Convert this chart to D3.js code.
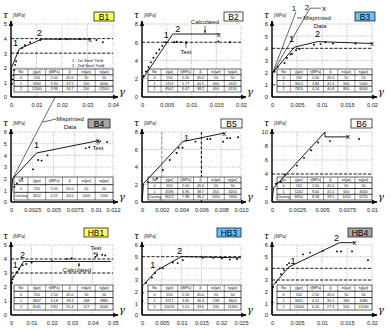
<!DOCTYPE html>
<html><head><meta charset="utf-8">
<script src="https://cdn.jsdelivr.net/npm/d3@7/dist/d3.min.js"></script>
<style>
html,body{margin:0;padding:0;background:#fff;}
svg{display:block;}
</style></head><body>
<svg id="chart" width="391" height="329"></svg>
<script>
// ================= DATA =================
const tableHeader = ["No","γ[με]","τ[MPa]","β","εx[με]","εy[με]"];

// B1
const b1XTicks = [0,0.01,0.02,0.03,0.04];
const b1XLabels = ["0","0.01","0.02","0.03","0.04"];
const b1YTicks = [0,1,2,3,4,5];
const b1Model = [[0,0],[0.00015,2.0],[0.0033,3.3],[0.012,3.96],[0.031,3.96]];
const b1Test = [[0.0004,0.9],[0.0007,1.2],[0.0009,1.5],[0.0012,1.85],[0.0016,2.2],[0.002,2.45],[0.0027,3.0],[0.0043,3.35],[0.0055,3.55],[0.0075,3.75],[0.0115,3.9],[0.019,3.95],[0.022,3.95],[0.027,3.97],[0.0335,3.9],[0.036,3.75]];
const b1Table = [["0","150","2.00","45.0","50","50"],["1","3300","3.30","37.2","100","4000"],["2","12000","3.96","34.7","200","13500"]];

// B2
const b2XTicks = [0,0.005,0.01,0.015,0.02];
const b2XLabels = ["0","0.005","0.01","0.015","0.02"];
const b2YTicks = [0,2,4,6,8];
const b2Model = [[0,0],[0.00015,2.0],[0.0051,6.0],[0.0062,6.9],[0.0155,6.9]];
const b2Test = [[0.0003,2.3],[0.0008,2.8],[0.0013,3.3],[0.0018,3.8],[0.0023,4.3],[0.0029,4.8],[0.0035,5.2],[0.0041,5.6],[0.0047,6.0],[0.0065,6.0],[0.007,6.05],[0.0078,6.0],[0.0154,6.1],[0.0178,6.0]];
const b2Table = [["0","150","2.00","45.0","50","50"],["1","5113","5.77","41.5","400","4110"],["2","8502","6.67","38.2","400","6130"]];

// B3
const b3XTicks = [0,0.005,0.01,0.015,0.02];
const b3XLabels = ["0","0.005","0.01","0.015","0.02"];
const b3YTicks = [0,1,2,3,4,5,6];
const b3Model = [[0,0],[0.00015,2.0],[0.0045,4.1],[0.0091,4.55],[0.02,4.4]];
const b3Misprint1 = [[0.00015,2.0],[0.0048,7.0]];
const b3Misprint2 = [[0.00015,2.0],[0.0076,7.3],[0.0098,7.3]];
const b3Test = [[0.0005,2.1],[0.0012,2.5],[0.0025,2.8],[0.003,3.2],[0.0037,3.5],[0.004,3.55],[0.0048,3.85],[0.0055,3.95],[0.0084,4.3],[0.0097,4.35],[0.0107,4.5],[0.0122,4.4],[0.0167,4.4]];
const b3Table = [["0","150","2.00","45.0","50","50"],["1","3615","3.86","42.3","600","5000"],["2","7820","4.54","40.8","800","8000"]];

// B4
const b4XTicks = [0,0.0025,0.005,0.0075,0.01,0.012];
const b4XLabels = ["0","0.0025","0.005","0.0075","0.01","0.012"];
const b4YTicks = [0,1,2,3,4,5,6];
const b4Model = [[0,0],[0.0002,2.0],[0.003,4.2],[0.0102,5.25]];
const b4Misprint = [[0.0002,2.0],[0.0052,9.0]];
const b4Test = [[0.0004,1.3],[0.0007,1.6],[0.0013,2.0],[0.0026,2.8],[0.0032,3.6],[0.0036,3.55],[0.0043,4.0],[0.0088,4.6],[0.0092,4.7],[0.0105,5.2],[0.0113,5.15]];
const b4Table = [["0","150","2.00","45.0","50","50"],["Cracking","3012","4.25","44.0","1000","1200"]];

// B5
const b5XTicks = [0,0.002,0.004,0.006,0.008,0.01];
const b5XLabels = ["0","0.002","0.004","0.006","0.008","0.010"];
const b5YTicks = [0,2,4,6,8];
const b5Model = [[0,0],[0.00015,2.1],[0.0041,6.9],[0.0083,7.88]];
const b5Test = [[0.0006,2.3],[0.0015,2.7],[0.0021,3.65],[0.0028,4.8],[0.0035,5.6],[0.0037,6.2],[0.0041,6.2],[0.0054,6.9],[0.0066,7.2],[0.0069,7.2],[0.0082,6.9],[0.0086,7.3],[0.0089,7.3],[0.0097,7.4]];
const b5Table = [["0","150","2.00","45.0","50","50"],["1","4596","6.90","38.7","450","4200"],["Cracking","8022","7.88","36.2","1050","7400"]];

// B6
const b6XTicks = [0,0.0025,0.005,0.0075,0.01];
const b6XLabels = ["0","0.0025","0.005","0.0075","0.01"];
const b6YTicks = [0,2,4,6,8,10];
const b6Model = [[0,0],[0.00015,2.0],[0.0053,10.0],[0.0053,9.3],[0.0076,9.3]];
const b6Test = [[0.0004,2.6],[0.0009,2.9],[0.0013,3.9],[0.0025,5.2],[0.0032,6.3],[0.0039,7.4],[0.0046,8.5],[0.0058,8.7],[0.0087,9.0]];
const b6Table = [["0","150","2.00","45.0","50","50"],["1","5242","9.00","41.5","650","4600"],["Cracking","8450","8.58","39.5","1050","6270"]];

// HB1
const hb1XTicks = [0,0.01,0.02,0.03,0.04,0.05];
const hb1XLabels = ["0","0.01","0.02","0.03","0.04","0.05"];
const hb1YTicks = [0,1,2,3,4,5];
const hb1Model = [[0,0],[0.00015,2.5],[0.0036,3.18],[0.0061,3.82],[0.049,3.82]];
const hb1Test = [[0.0005,2.3],[0.0008,2.55],[0.0012,2.75],[0.0027,3.05],[0.004,3.3],[0.0057,3.55],[0.0075,3.65],[0.0101,3.75],[0.0202,3.85],[0.0274,4.0],[0.0298,4.05],[0.041,4.4],[0.0413,4.15],[0.0447,4.3],[0.0462,4.25]];
const hb1Table = [["0","150","2.50","45.0","50","50"],["1","3607","3.18","39.3","168","3880"],["2","6141","3.82","35.4","127","6000"]];

// HB3
const hb3XTicks = [0,0.005,0.01,0.015,0.02,0.025];
const hb3XLabels = ["0","0.005","0.01","0.015","0.02","0.025"];
const hb3YTicks = [0,1,2,3,4,5,6];
const hb3Model = [[0,0],[0.00015,2.5],[0.0037,3.82],[0.01,5.01],[0.025,4.9]];
const hb3Test = [[0.0001,1.2],[0.0002,1.9],[0.001,2.75],[0.0025,3.2],[0.0033,3.6],[0.0045,4.0],[0.0053,4.0],[0.0078,4.5],[0.009,4.45],[0.0103,4.7],[0.0154,4.9],[0.018,4.9],[0.0202,4.85],[0.0222,4.75],[0.024,4.8]];
const hb3Table = [["0","150","2.50","45.0","50","50"],["1","3721","3.82","36.3","138","3600"],["2","10015","5.01","33.6","230","11300"]];

// HB4
const hb4XTicks = [0,0.005,0.01,0.015,0.02];
const hb4XLabels = ["0","0.005","0.01","0.015","0.02"];
const hb4YTicks = [0,1,2,3,4,5,6];
const hb4Model = [[0,0],[0.00015,2.5],[0.0034,4.12],[0.0135,6.2],[0.0165,6.2]];
const hb4Test = [[0.0001,1.1],[0.0002,2.4],[0.0008,2.8],[0.0018,3.5],[0.0024,3.85],[0.003,4.3],[0.0034,4.45],[0.0062,5.2],[0.0076,5.35],[0.0102,5.5],[0.013,5.45],[0.0138,5.45],[0.016,5.45],[0.0192,4.7]];
const hb4Table = [["0","150","2.50","45.0","50","50"],["1","3441","4.12","30.1","180","3080"],["2","12000","6.20","27.3","500","12000"]];

// ================= LAYOUT =================
const FONT = "'Liberation Sans', Arial, sans-serif";
const rows = [
  {T:24, B:97, tau:16, boxY:12, xl:107, tY1:69, tY2:92},
  {T:132, B:202, tau:124, boxY:119, xl:213, tY1:177, tY2:200},
  {T:245, B:315, tau:237, boxY:228, xl:325, tY1:285, tY2:310}
];
const cols = [{L:11,R:113,tL:14},{L:142,R:241,tL:148},{L:272,R:372,tL:277}];

const panels = [
 {name:"B1", r:0,c:0, xd:[0,0.04], yd:[0,5], xt:b1XTicks, xl:b1XLabels, yt:b1YTicks, model:b1Model, test:b1Test, table:b1Table,
  box:"#ffff66", bw:20, bx:94, dash:{h:[3,4],v:[]}, labs:[[2,"1",-4,-3],[3,"2",-2,-3]], xEnd:true},
 {name:"B2", r:0,c:1, xd:[0,0.02], yd:[0,8], xt:b2XTicks, xl:b2XLabels, yt:b2YTicks, model:b2Model, test:b2Test, table:b2Table,
  box:"#ffffff", bw:19, bx:224, dash:{h:[6],v:[]}, labs:[[2,"1",-1,-4],[3,"2",5,-2]], xEnd:true},
 {name:"B3", r:0,c:2, xd:[0,0.02], yd:[0,6], xt:b3XTicks, xl:b3XLabels, yt:b3YTicks, model:b3Model, test:b3Test, table:b3Table,
  box:"#66c2ff", bw:20, bx:355, dash:{h:[1,4],v:[]}, labs:[[2,"1",-3,-5],[3,"2",0,-5]], xEnd:true},
 {name:"B4", r:1,c:0, xd:[0,0.012], yd:[0,6], xt:b4XTicks, xl:b4XLabels, yt:b4YTicks, model:b4Model, test:b4Test, table:b4Table,
  box:"#a6a6a6", bw:22, bx:88, dash:{h:[],v:[]}, labs:[[2,"1",0,-5]], xEnd:true},
 {name:"B5", r:1,c:1, xd:[0,0.01], yd:[0,8], xt:b5XTicks, xl:b5XLabels, yt:b5YTicks, model:b5Model, test:b5Test, table:b5Table,
  box:"#ffffff", bw:21, bx:221, dash:{h:[],v:[0.006]}, dashG:{v:[0.002]}, labs:[[2,"1",4,-1]], xEnd:true},
 {name:"B6", r:1,c:2, xd:[0,0.01], yd:[0,10], xt:b6XTicks, xl:b6XLabels, yt:b6YTicks, model:b6Model, test:b6Test, table:b6Table,
  box:"#ffffff", bw:21, bx:351, dash:{h:[4],v:[]}, labs:[], xEnd:true},
 {name:"HB1", r:2,c:0, xd:[0,0.05], yd:[0,5], xt:hb1XTicks, xl:hb1XLabels, yt:hb1YTicks, model:hb1Model, test:hb1Test, table:hb1Table,
  box:"#ffff66", bw:24, bx:84, dash:{h:[3,4],v:[]}, labs:[[2,"1",-3,-2],[3,"2",-1,-4]], xEnd:false},
 {name:"HB3", r:2,c:1, xd:[0,0.025], yd:[0,6], xt:hb3XTicks, xl:hb3XLabels, yt:hb3YTicks, model:hb3Model, test:hb3Test, table:hb3Table,
  box:"#66c2ff", bw:24, bx:217, dash:{h:[5],v:[]}, labs:[[2,"1",-4,-2],[3,"2",-2,-3]], xEnd:false},
 {name:"HB4", r:2,c:2, xd:[0,0.02], yd:[0,6], xt:hb4XTicks, xl:hb4XLabels, yt:hb4YTicks, model:hb4Model, test:hb4Test, table:hb4Table,
  box:"#a6a6a6", bw:24, bx:348, dash:{h:[3,4],v:[]}, labs:[[2,"1",4,-3],[3,"2",-3,-2]], xEnd:true}
];

const svg = d3.select("#chart");
const defs = svg.append("defs");
defs.append("marker").attr("id","ah").attr("viewBox","0 0 10 10").attr("refX",9).attr("refY",5)
  .attr("markerWidth",4).attr("markerHeight",4).attr("orient","auto-start-reverse")
  .append("path").attr("d","M0,1L10,5L0,9Z").attr("fill","#000");
defs.append("marker").attr("id","sa").attr("viewBox","0 0 10 10").attr("refX",9).attr("refY",5)
  .attr("markerWidth",5).attr("markerHeight",5).attr("orient","auto")
  .append("path").attr("d","M0,2L10,5L0,8Z").attr("fill","#000");

const scales = {};

panels.forEach(p => {
  const R = rows[p.r], C = cols[p.c];
  const g = svg.append("g");
  const x = d3.scaleLinear().domain(p.xd).range([C.L, C.R]);
  const y = d3.scaleLinear().domain(p.yd).range([R.B, R.T]);
  scales[p.name] = {x, y};
  // grid
  g.selectAll(null).data(p.xt.filter(d => d > 0)).join("line")
    .attr("x1", d => x(d)).attr("x2", d => x(d)).attr("y1", R.B).attr("y2", R.T)
    .attr("stroke", "#8a8a8a").attr("stroke-width", 0.6).attr("stroke-dasharray", "1,1.2");
  g.selectAll(null).data(p.yt.filter(d => d > 0)).join("line")
    .attr("x1", C.L).attr("x2", C.R).attr("y1", d => y(d)).attr("y2", d => y(d))
    .attr("stroke", "#8a8a8a").attr("stroke-width", 0.6).attr("stroke-dasharray", "1,1.2");
  // emphasized dashed lines
  g.selectAll(null).data(p.dash.h).join("line")
    .attr("x1", C.L).attr("x2", C.R).attr("y1", d => y(d)).attr("y2", d => y(d))
    .attr("stroke", "#111").attr("stroke-width", 0.9).attr("stroke-dasharray", "3,1.8");
  g.selectAll(null).data(p.dash.v).join("line")
    .attr("x1", d => x(d)).attr("x2", d => x(d)).attr("y1", R.B).attr("y2", R.T)
    .attr("stroke", "#111").attr("stroke-width", 1.1).attr("stroke-dasharray", "3,1.8");
  if (p.dashG) g.selectAll(null).data(p.dashG.v).join("line")
    .attr("x1", d => x(d)).attr("x2", d => x(d)).attr("y1", R.B).attr("y2", R.T)
    .attr("stroke", "#999").attr("stroke-width", 1.1).attr("stroke-dasharray", "3,1.8");

  // tick labels via d3 axes
  const ax = g.append("g").attr("transform", `translate(0,${R.B})`)
    .call(d3.axisBottom(x).tickValues(p.xt).tickFormat((d,i) => p.xl[i]).tickSize(0).tickPadding(6));
  ax.select(".domain").remove();
  ax.selectAll("text").attr("font-family", FONT).attr("font-size", 5.6).attr("fill", "#222");
  const ay = g.append("g").attr("transform", `translate(${C.L},0)`)
    .call(d3.axisLeft(y).tickValues(p.yt).tickFormat(d3.format("d")).tickSize(0).tickPadding(4));
  ay.select(".domain").remove();
  ay.selectAll("text").attr("font-family", FONT).attr("font-size", 5.8).attr("fill", "#222");

  // table
  const tx0 = C.tL, tx1 = C.R, ty0 = R.tY1, ty1 = R.tY2;
  const allRows = [tableHeader].concat(p.table);
  const rh = (ty1 - ty0) / allRows.length;
  const fr = [0.14,0.18,0.17,0.15,0.18,0.18];
  const cx = [tx0]; fr.forEach(f => cx.push(cx[cx.length-1] + f*(tx1-tx0)));
  const tg = g.append("g");
  tg.append("rect").attr("x", tx0).attr("y", ty0).attr("width", tx1-tx0).attr("height", ty1-ty0)
    .attr("fill", "#fff").attr("stroke", "#000").attr("stroke-width", 0.6);
  tg.selectAll(null).data(d3.range(1, allRows.length)).join("line")
    .attr("x1", tx0).attr("x2", tx1).attr("y1", i => ty0 + i*rh).attr("y2", i => ty0 + i*rh)
    .attr("stroke", "#000").attr("stroke-width", 0.8);
  tg.selectAll(null).data(cx.slice(1, -1)).join("line")
    .attr("x1", d => d).attr("x2", d => d).attr("y1", ty0).attr("y2", ty1)
    .attr("stroke", "#000").attr("stroke-width", 0.4);
  allRows.forEach((row, ri) => {
    row.forEach((v, ci) => {
      tg.append("text").attr("x", (cx[ci]+cx[ci+1])/2).attr("y", ty0 + ri*rh + rh/2 + 1.3)
        .attr("text-anchor", "middle").attr("font-family", FONT)
        .attr("font-size", v.length > 6 ? 3.3 : 3.7).attr("fill", "#111").text(v);
    });
  });

  // axes lines with arrows
  g.append("line").attr("x1", C.L).attr("x2", C.R + 5).attr("y1", R.B).attr("y2", R.B)
    .attr("stroke", "#000").attr("stroke-width", 1.4).attr("marker-end", "url(#ah)");
  g.append("line").attr("x1", C.L).attr("x2", C.L).attr("y1", R.B).attr("y2", R.T - 3)
    .attr("stroke", "#000").attr("stroke-width", 1.4).attr("marker-end", "url(#ah)");

  // model line
  const line = d3.line().x(d => x(d[0])).y(d => y(d[1]));
  g.append("path").attr("d", line(p.model)).attr("fill", "none").attr("stroke", "#000").attr("stroke-width", 0.9);
  // test points
  g.selectAll(null).data(p.test).join("circle")
    .attr("cx", d => x(d[0])).attr("cy", d => y(d[1])).attr("r", 0.95).attr("fill", "#000");
  // point labels
  p.labs.forEach(l => {
    const pt = p.model[l[0]];
    g.append("text").attr("x", x(pt[0]) + l[2]).attr("y", y(pt[1]) + l[3])
      .attr("text-anchor", "middle").attr("font-family", FONT).attr("font-size", 9).text(l[1]);
  });
  if (p.xEnd) {
    const pt = p.model[p.model.length-1];
    g.append("text").attr("x", x(pt[0])).attr("y", y(pt[1]) + 2.5).attr("text-anchor", "middle")
      .attr("font-family", FONT).attr("font-size", 8).text("x");
  }

  // axis titles
  g.append("text").attr("x", C.L - 8).attr("y", R.tau + 2).attr("font-family", "'DejaVu Serif', serif")
    .attr("font-style", "italic").attr("font-size", 9).text("τ");
  g.append("text").attr("x", C.L + 2).attr("y", R.tau + 1).attr("font-family", FONT)
    .attr("font-style", "italic").attr("font-size", 4.6).attr("fill", "#333").text("[MPa]");
  g.append("text").attr("x", C.R + 6).attr("y", R.B - 2).attr("font-family", "'DejaVu Serif', serif")
    .attr("font-style", "italic").attr("font-size", 10).text("γ");

  // name box
  g.append("rect").attr("x", p.bx).attr("y", R.boxY).attr("width", p.bw).attr("height", 9)
    .attr("fill", p.box).attr("stroke", "#000").attr("stroke-width", 0.7);
  g.append("text").attr("x", p.bx + p.bw/2).attr("y", R.boxY + 7.6).attr("text-anchor", "middle")
    .attr("font-family", FONT).attr("font-size", 8.5).text(p.name);
});

// ---------- annotations ----------
function txt(s, xx, yy, size, anchor) {
  svg.append("text").attr("x", xx).attr("y", yy).attr("font-family", FONT).attr("font-size", size)
    .attr("text-anchor", anchor || "start").attr("fill", "#111").text(s);
}
// B1 legend notes
txt("1 : 1st Steel Yield", 72, 62, 4);
txt("2 : 2nd Steel Yield", 72, 67, 4);

// B2 notes
txt("Calculated", 205, 24, 6, "middle");
svg.append("line").attr("x1", 205).attr("y1", 26).attr("x2", 205).attr("y2", 33).attr("stroke", "#000").attr("stroke-width", 0.6).attr("marker-end", "url(#sa)");
txt("Test", 186, 54, 6, "middle");
svg.append("line").attr("x1", 186).attr("y1", 48).attr("x2", 186).attr("y2", 41).attr("stroke", "#000").attr("stroke-width", 0.6).attr("marker-end", "url(#sa)");

// B3 misprinted
{
  const {x, y} = scales.B3;
  const line = d3.line().x(d => x(d[0])).y(d => y(d[1]));
  svg.append("path").attr("d", line(b3Misprint1)).attr("fill", "none").attr("stroke", "#000").attr("stroke-width", 0.6);
  svg.append("path").attr("d", line(b3Misprint2)).attr("fill", "none").attr("stroke", "#000").attr("stroke-width", 0.6);
  const p1 = b3Misprint1[1], p2 = b3Misprint2[1], p3 = b3Misprint2[2];
  txt("1", x(p1[0]) - 2, y(p1[1]) - 0.5, 8, "middle");
  txt("2", x(p2[0]) - 3, y(p2[1]) + 1.5, 8, "middle");
  txt("x", x(p3[0]) + 3, y(p3[1]) + 2.5, 8, "middle");
  txt("Misprinted", 317, 20, 6, "middle");
  txt("Data", 320, 28, 6, "middle");
  svg.append("line").attr("x1", 297).attr("y1", 18).attr("x2", 302).attr("y2", 18).attr("stroke", "#000").attr("stroke-width", 0.6);
}
// B4 misprinted
{
  const {x, y} = scales.B4;
  const line = d3.line().x(d => x(d[0])).y(d => y(d[1]));
  svg.append("path").attr("d", line(b4Misprint)).attr("fill", "none").attr("stroke", "#000").attr("stroke-width", 0.6);
  txt("Misprinted", 70, 121, 6, "middle");
  txt("Data", 70, 129, 6, "middle");
  svg.append("line").attr("x1", 43).attr("y1", 122).attr("x2", 56).attr("y2", 119).attr("stroke", "#000").attr("stroke-width", 0.6);
  txt("Test", 98, 150, 6, "middle");
  svg.append("line").attr("x1", 98).attr("y1", 145).attr("x2", 98).attr("y2", 140).attr("stroke", "#000").attr("stroke-width", 0.6);
}
// HB1 notes
txt("Test", 96, 250, 6, "middle");
svg.append("line").attr("x1", 97).attr("y1", 252).attr("x2", 97).attr("y2", 257).attr("stroke", "#000").attr("stroke-width", 0.6).attr("marker-end", "url(#sa)");
txt("Calculated", 77, 272, 6, "middle");
svg.append("line").attr("x1", 79).attr("y1", 267).attr("x2", 79).attr("y2", 263).attr("stroke", "#000").attr("stroke-width", 0.6).attr("marker-end", "url(#sa)");
</script>
</body></html>
